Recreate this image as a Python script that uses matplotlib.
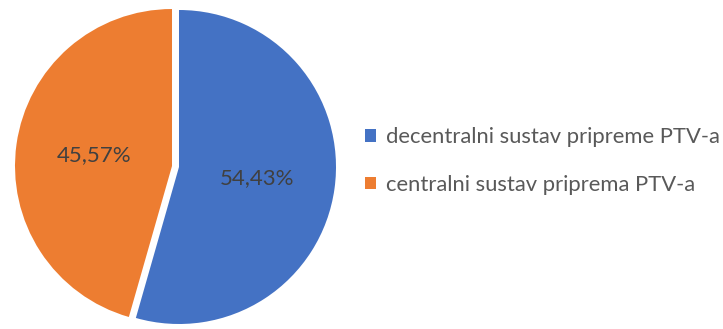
import matplotlib.pyplot as plt

plt.rcParams['font.family'] = ['Lato', 'DejaVu Sans']

# podaci
labels = ['decentralni sustav pripreme PTV-a', 'centralni sustav priprema PTV-a']
values = [54.43, 45.57]
colors = ['#4472C4', '#ED7D31']

fig = plt.figure(figsize=(7.23, 3.29), dpi=100)
# axes placed so the pie sits at left
W, H = 723, 329
r = 157
cx, cy = 179, 167
side = 2.2 * r
ax = fig.add_axes([(cx - side / 2) / W, (H - cy - side / 2) / H, side / W, side / H])

wedges, texts, autotexts = ax.pie(
    values, colors=colors, startangle=90, counterclock=False,
    explode=[0, 0.045], radius=1,
    autopct=lambda p: f'{p:.2f}%'.replace('.', ','), pctdistance=0.5,
    textprops={'fontsize': 16, 'color': '#404040'},
    wedgeprops={'linewidth': 0})
ax.set_xlim(-1.1, 1.1)
ax.set_ylim(-1.1, 1.1)
ax.set_aspect('equal')
ax.axis('off')

fig.legend(wedges, labels, loc='center left', bbox_to_anchor=(345 / W, 1 - 161 / H),
           frameon=False, fontsize=15.8, labelcolor='#595959',
           handlelength=0.5, handleheight=0.5, handletextpad=0.45,
           labelspacing=1.25)

fig.savefig('out.png', dpi=100)
